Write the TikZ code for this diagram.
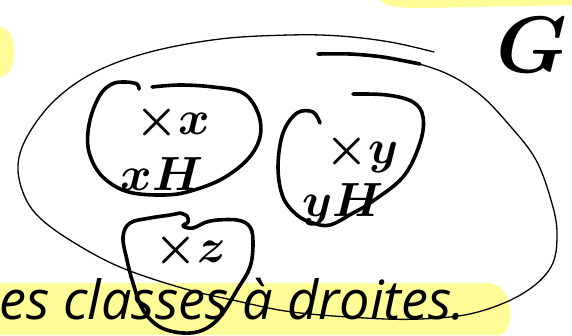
\RequirePackage{fix-cm}
\documentclass[tikz,border=0pt]{standalone}
\usepackage{fontspec}
\newfontfamily\notefont{Open Sans}
\definecolor{hilite}{RGB}{255,251,150}
\tikzset{
  penthin/.style={line width=1.3pt, line cap=round, line join=round},
  penthick/.style={line width=3.6pt, line cap=round, line join=round},
  marker/.style={fill=hilite, draw=none},
  inklabel/.style={inner sep=0pt, font=\fontsize{48}{48}\selectfont\boldmath},
}
\begin{document}
\begin{tikzpicture}[x=1pt, y=-1pt]
\useasboundingbox (0,0) rectangle (572,335);
% highlighter marks
\fill[marker] (380,0) .. controls (383,6) and (395,8) .. (425,8) -- (572,5) -- (572,0) -- cycle;
\fill[marker] (0,27) .. controls (19,28) and (19,76) .. (0,77) -- cycle;
\fill[marker] (0,283) -- (488,283) .. controls (516,284) and (516,335) .. (498,335) -- (0,335) -- cycle;
% sentence
\node[anchor=base west, inner sep=0pt, font=\notefont\itshape\fontsize{54}{54}\selectfont] (phrase) at (-1,319) {es classes à droites.};
% the group
\draw[penthin] plot[smooth, tension=0.6] coordinates {(434,52) (390,42) (340,36) (290,35) (220,39) (150,52) (95,72) (55,100) (28,135) (18,165) (24,195) (40,218) (73,242) (120,267) (182,288) (237,301) (292,312) (365,318) (420,319) (474,313) (522,294) (551,267) (557,233) (551,200) (536,160) (511,127) (478,93) (438,70) (383,57) (318,53)};
\draw[penthick] plot[smooth] coordinates {(318,54) (350,54) (383,57) (420,64)};
% cosets
\draw[penthick] plot[smooth, tension=0.6] coordinates {(139,89) (137,84) (125,82) (112,84) (100,95) (90,120) (88,147) (97,170) (113,185) (133,193) (163,195) (187,192) (220,180) (247,160) (260,137) (258,113) (243,93) (213,87) (180,85) (152,87)};
\draw[penthick] plot[smooth, tension=0.6] coordinates {(320,123) (313,112) (297,113) (283,133) (278,167) (283,197) (297,215) (313,223) (330,225) (353,213) (370,203) (403,177) (420,143) (423,117) (413,102) (387,95) (353,94)};
\draw[penthick] plot[smooth, tension=0.6] coordinates {(180,213) (187,216) (188,222) (183,226) (193,228) (210,221) (237,220) (250,227) (253,243) (250,267) (237,290) (220,317) (203,330) (183,333) (160,327) (143,310) (133,283) (127,260) (123,237) (130,223) (150,218) (170,215) (180,213)};
% labels
\node[inklabel] (xmark) at (173,122) {$\times x$};
\node[inklabel] (xcoset) at (162,174) {$xH$};
\node[inklabel] (ymark) at (362,153) {$\times y$};
\node[inklabel] (ycoset) at (343,205) {$yH$};
\node[inklabel] (zmark) at (190,250) {$\times z$};
\node[inklabel, font=\fontsize{80}{80}\selectfont\boldmath] (group) at (532,45) {$G$};
\end{tikzpicture}
\end{document}
